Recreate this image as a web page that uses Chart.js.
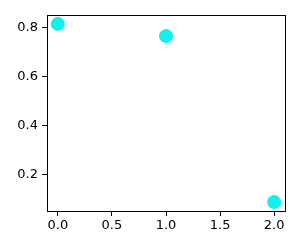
<!DOCTYPE html>
<html>
<head>
<meta charset="utf-8">
<script src="https://cdn.jsdelivr.net/npm/chart.js@4/dist/chart.umd.min.js"></script>
<style>
  html, body { margin: 0; padding: 0; background: #fff; }
  #wrap { width: 300px; height: 250px; }
</style>
</head>
<body>
<div id="wrap"><canvas id="c" width="300" height="250"></canvas></div>
<script>
// данные с картинки
const xValues = [0, 1, 2];
const yValues = [0.816, 0.766, 0.086];
const xTicks = [0.0, 0.5, 1.0, 1.5, 2.0];
const yTicks = [0.2, 0.4, 0.6, 0.8];

const points = xValues.map((x, i) => ({ x: x, y: yValues[i] }));

// рамка вокруг области графика
const frame = {
    id: 'frame',
    afterDraw(chart) {
        const a = chart.chartArea;
        const ctx = chart.ctx;
        ctx.save();
        ctx.strokeStyle = '#000';
        ctx.lineWidth = 1;
        ctx.strokeRect(Math.round(a.left) + 0.5, Math.round(a.top) + 0.5,
            Math.round(a.right - a.left), Math.round(a.bottom - a.top));
        ctx.restore();
    }
};

const font = { family: 'DejaVu Sans', size: 13 };

new Chart(document.getElementById('c').getContext('2d'), {
    type: 'scatter',
    data: {
        datasets: [{
            data: points,
            backgroundColor: 'rgb(16, 240, 236)',
            borderWidth: 0,
            pointRadius: 7,
            pointHoverRadius: 7
        }]
    },
    options: {
        responsive: false,
        animation: false,
        events: [],
        layout: { padding: { top: 15, right: 15, left: 0, bottom: 0 } },
        plugins: { legend: { display: false }, tooltip: { enabled: false } },
        scales: {
            x: {
                type: 'linear',
                min: -0.1,
                max: 2.1,
                afterBuildTicks: axis => { axis.ticks = xTicks.map(v => ({ value: v })); },
                afterFit: axis => { axis.height = 39; },
                ticks: {
                    color: '#000',
                    font: font,
                    padding: 2,
                    maxRotation: 0,
                    callback: v => v.toFixed(1)
                },
                grid: { drawOnChartArea: false, tickLength: 5, tickColor: '#000' },
                border: { color: '#000' }
            },
            y: {
                type: 'linear',
                min: 0.0495,
                max: 0.8525,
                afterBuildTicks: axis => { axis.ticks = yTicks.map(v => ({ value: v })); },
                afterFit: axis => { axis.width = 47; },
                ticks: {
                    color: '#000',
                    font: font,
                    padding: 4,
                    callback: v => v.toFixed(1)
                },
                grid: { drawOnChartArea: false, tickLength: 5, tickColor: '#000' },
                border: { color: '#000' }
            }
        }
    },
    plugins: [frame]
});
</script>
</body>
</html>
